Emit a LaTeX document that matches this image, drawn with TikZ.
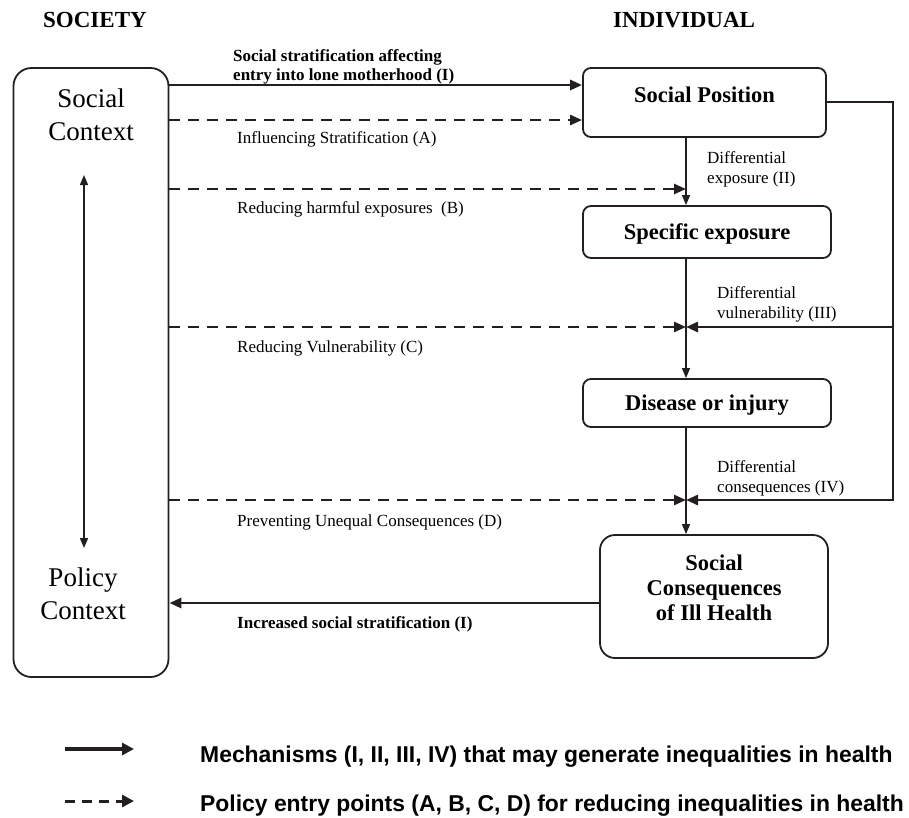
\documentclass[tikz,border=0pt]{standalone}
\usepackage{fontspec}
\setmainfont{Liberation Serif}
\newfontfamily\legendfont{Liberation Sans}
\usetikzlibrary{arrows.meta}

\begin{document}
\begin{tikzpicture}[x=1pt,y=-1pt,
  ink/.style={draw={rgb,255:red,35;green,31;blue,32}},
  box/.style={ink,line width=1.8pt,rounded corners=8pt,inner sep=0pt,
    font=\fontsize{22.5}{25}\selectfont\bfseries,text depth=0pt},
  ctxbox/.style={ink,line width=1.8pt,rounded corners=18pt},
  ctxtext/.style={font=\fontsize{27}{32.5}\selectfont,align=center},
  heading/.style={font=\fontsize{23}{26}\selectfont\bfseries,anchor=base west,inner sep=0pt},
  lbl/.style={font=\fontsize{17}{20}\selectfont,anchor=base west,inner sep=0pt,align=left},
  mech/.style={ink,line width=2.8pt,-{Triangle[length=12pt,width=10pt]}},
  policy/.style={ink,line width=2.6pt,dash pattern=on 11pt off 8pt,-{Triangle[length=12pt,width=10pt]}},
  flow/.style={ink,line width=1.4pt,-{Triangle[length=10pt,width=8pt]}},
  legtext/.style={font=\legendfont\fontsize{22.9}{27}\selectfont\bfseries,anchor=base west,inner sep=0pt}]
% 909pt x 817pt, one unit = 1pt, y runs downwards
\useasboundingbox (0,0) rectangle (909,817);

\node[heading] (society) at (43,27) {SOCIETY};
\node[heading] (individual) at (613,27) {INDIVIDUAL};

% society side
\node[ctxbox,minimum width=155,minimum height=609] (ctx) at (91,372.5) {};
\node[ctxtext] (soctxt) at (91,115) {Social\\Context};
\node[ctxtext] (poltxt) at (83,594) {Policy\\Context};
\coordinate (ctxup) at (84,175);
\coordinate (ctxdown) at (84,548);
\draw[ink,line width=1.4pt,{Triangle[length=10pt,width=8pt]}-{Triangle[length=10pt,width=8pt]}] (ctxup) -- (ctxdown);

% individual side
\node[box,minimum width=243,minimum height=69,text depth=16pt] (pos) at (704.5,102.5) {Social Position};
\node[box,minimum width=248,minimum height=52] (expo) at (707,232) {Specific exposure};
\node[box,minimum width=248,minimum height=48] (dis) at (707,403) {Disease or injury};
\node[box,minimum width=228,minimum height=123,rounded corners=15pt,align=center,text depth=18pt] (cons) at (714,596.5) {Social\\Consequences\\of Ill Health};

\coordinate (jII) at (686,189);
\coordinate (jIII) at (686,327);
\coordinate (jIV) at (686,500);
\coordinate (rail) at (893,102);

\draw[flow] (pos.south -| jII) -- (expo.north -| jII);
\draw[flow] (expo.south -| jIII) -- (dis.north -| jIII);
\draw[flow] (dis.south -| jIV) -- (cons.north -| jIV);

\draw[mech] (pos.east |- rail) -- (rail) |- (jIV);
\draw[mech] (rail |- jIII) -- (jIII);

% mechanisms and entry points
\draw[mech] (ctx.east |- 0,85) -- (pos.west |- 0,85);
\draw[policy] (ctx.east |- 0,120) -- (pos.west |- 0,120);
\draw[policy] (ctx.east |- jII) -- (jII);
\draw[policy] (ctx.east |- jIII) -- (jIII);
\draw[policy] (ctx.east |- jIV) -- (jIV);
\draw[mech] (cons.west |- 0,603) -- (ctx.east |- 0,603);

\node[lbl,font=\fontsize{17}{19}\selectfont\bfseries] (lblItop) at (233,80) {Social stratification affecting\\entry into lone motherhood (I)};
\node[lbl] (lblA) at (237,143) {Influencing Stratification (A)};
\node[lbl] (lblB) at (237,213) {Reducing harmful exposures~ (B)};
\node[lbl] (lblC) at (237,352) {Reducing Vulnerability (C)};
\node[lbl] (lblD) at (237,526) {Preventing Unequal Consequences (D)};
\node[lbl,font=\fontsize{17}{20}\selectfont\bfseries] (lblIbot) at (237,628) {Increased social stratification (I)};
\node[lbl] (lblII) at (707,183) {Differential\\exposure (II)};
\node[lbl] (lblIII) at (717,318) {Differential\\vulnerability (III)};
\node[lbl] (lblIV) at (717,492) {Differential\\consequences (IV)};

% legend
\coordinate (legAa) at (65,749);
\coordinate (legAb) at (134,749);
\coordinate (legBa) at (65,801);
\coordinate (legBb) at (134,801);
\draw[ink,line width=4pt,-{Triangle[length=12pt,width=12pt]}] (legAa) -- (legAb);
\draw[ink,line width=3pt,dash pattern=on 10pt off 7pt,-{Triangle[length=12pt,width=12pt]}] (legBa) -- (legBb);
\node[legtext] (legA) at (200,762) {Mechanisms (I, II, III, IV) that may generate inequalities in health};
\node[legtext] (legB) at (200,811) {Policy entry points (A, B, C, D) for reducing inequalities in health};
\end{tikzpicture}
\end{document}
